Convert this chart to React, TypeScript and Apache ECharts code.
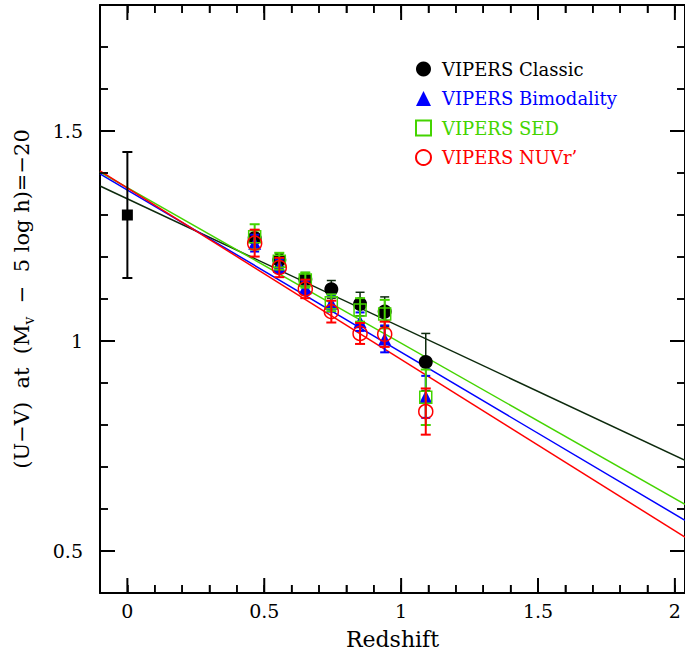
import React, { useEffect, useRef } from "react";
import * as echarts from "echarts";

// Redshift bins
const zBins = [0.465, 0.555, 0.65, 0.745, 0.85, 0.94, 1.09];
// VIPERS samples: colour and error
const classicVal = [1.245, 1.193, 1.147, 1.123, 1.088, 1.07, 0.95];
const classicErr = [0.02, 0.016, 0.016, 0.021, 0.028, 0.035, 0.068];
const bimodalityVal = [1.233, 1.178, 1.127, 1.09, 1.046, 1.005, 0.867];
const bimodalityErr = [0.02, 0.016, 0.016, 0.02, 0.022, 0.032, 0.05];
const sedVal = [1.248, 1.19, 1.145, 1.091, 1.074, 1.064, 0.866];
const sedErr = [0.03, 0.02, 0.018, 0.02, 0.028, 0.034, 0.066];
const nuvrVal = [1.233, 1.175, 1.124, 1.07, 1.018, 1.016, 0.832];
const nuvrErr = [0.032, 0.023, 0.022, 0.026, 0.025, 0.03, 0.055];
// local (z=0) point
const localZ = [0];
const localVal = [1.3];
const localErr = [0.15];
// fit lines: endpoints
const fitX = [-0.1, 2.037];
const fitClassic = [1.369, 0.716];
const fitSed = [1.402, 0.611];
const fitBimodality = [1.398, 0.573];
const fitNuvr = [1.405, 0.533];
// axes
const xTicks = [0, 0.5, 1, 1.5, 2];
const xMinorTicks = [0.1, 0.2, 0.3, 0.4, 0.6, 0.7, 0.8, 0.9, 1.1, 1.2, 1.3, 1.4, 1.6, 1.7, 1.8, 1.9];
const yTicks = [0.5, 1, 1.5];
const yMinorTicks = [0.6, 0.7, 0.8, 0.9, 1.1, 1.2, 1.3, 1.4, 1.6, 1.7];
const yRange = [0.4, 1.8];

const FONT = "DejaVu Serif";
const BLACK = "#000000";
const BLUE = "#0000ff";
const GREEN = "#44d400";
const RED = "#ff0000";
const DARK = "#0d2a0d";
const MAJOR_LEN = 15;
const MINOR_LEN = 8;

function errData(xs: number[], vs: number[], es: number[]) {
  return xs.map((x, i) => [x, vs[i], vs[i] - es[i], vs[i] + es[i]]);
}

function errSeries(name: string, xs: number[], vs: number[], es: number[], color: string, width: number, cap: number, z: number) {
  return {
    name,
    type: "custom",
    z,
    encode: { x: 0, y: 1 },
    data: errData(xs, vs, es),
    renderItem: (params: any, api: any) => {
      const x = api.value(0);
      const lo = api.coord([x, api.value(2)]);
      const hi = api.coord([x, api.value(3)]);
      return {
        type: "group",
        children: [
          { type: "line", shape: { x1: lo[0], y1: lo[1], x2: hi[0], y2: hi[1] }, style: { stroke: color, lineWidth: width } },
          { type: "line", shape: { x1: lo[0] - cap / 2, y1: lo[1], x2: lo[0] + cap / 2, y2: lo[1] }, style: { stroke: color, lineWidth: width } },
          { type: "line", shape: { x1: hi[0] - cap / 2, y1: hi[1], x2: hi[0] + cap / 2, y2: hi[1] }, style: { stroke: color, lineWidth: width } },
        ],
      };
    },
  };
}

function pts(xs: number[], vs: number[]) {
  return xs.map((x, i) => [x, vs[i]]);
}

function fitSeries(name: string, ys: number[], color: string) {
  return {
    name,
    type: "line",
    data: pts(fitX, ys),
    symbol: "none",
    lineStyle: { color, width: 1.5 },
    z: 1,
  };
}

export default function App() {
  const ref = useRef<HTMLDivElement>(null);
  useEffect(() => {
    document.body.style.margin = "0";
    if (!ref.current) return;
    const chart = echarts.init(ref.current, null, { renderer: "svg" });
    const xMin = fitX[0];
    const xMax = fitX[1];
    const yMin = yRange[0];
    const yMax = yRange[1];

    const axisX = (pos: string, labels: boolean) => ({
      type: "value",
      min: xMin,
      max: xMax,
      interval: 0.1,
      position: pos,
      axisLine: { show: true, onZero: false, lineStyle: { color: BLACK, width: 2 } },
      axisTick: { show: true, inside: true, length: MINOR_LEN, lineStyle: { color: BLACK, width: 1.5 } },
      axisLabel: labels
        ? { show: true, customValues: xTicks, color: BLACK, fontFamily: FONT, fontSize: 19, margin: 8 }
        : { show: false },
      splitLine: { show: false },
    });
    const axisY = (pos: string, labels: boolean) => ({
      type: "value",
      min: yMin,
      max: yMax,
      interval: 0.1,
      position: pos,
      axisLine: { show: true, onZero: false, lineStyle: { color: BLACK, width: 2 } },
      axisTick: { show: true, inside: true, length: MINOR_LEN, lineStyle: { color: BLACK, width: 1.5 } },
      axisLabel: labels
        ? { show: true, customValues: yTicks, color: BLACK, fontFamily: FONT, fontSize: 19, margin: 17 }
        : { show: false },
      splitLine: { show: false },
    });
    const xAxes: any[] = [axisX("bottom", true), axisX("top", false)];
    xAxes[0].name = "Redshift";
    xAxes[0].nameLocation = "middle";
    xAxes[0].nameGap = 35;
    xAxes[0].nameTextStyle = { color: BLACK, fontFamily: FONT, fontSize: 22 };
    const yAxes: any[] = [axisY("left", true), axisY("right", false)];
    yAxes[0].name = "{n|(U\u2212V)  at  (M}{s|v}{n|  \u2212  5 log h)=\u221220}";
    yAxes[0].nameLocation = "middle";
    yAxes[0].nameRotate = 90;
    yAxes[0].nameGap = 64;
    yAxes[0].nameTextStyle = {
      color: BLACK,
      fontFamily: FONT,
      fontSize: 21,
      rich: {
        n: { fontFamily: FONT, fontSize: 21, color: BLACK, lineHeight: 28 },
        s: { fontFamily: FONT, fontSize: 14, color: BLACK, lineHeight: 28, verticalAlign: "bottom", padding: [12, 0, 0, 0] },
      },
    };

    const option: any = {
      animation: false,
      grid: { left: 100, top: 5, right: -2, bottom: 66 },
      xAxis: xAxes,
      yAxis: yAxes,
      legend: {
        orient: "vertical",
        left: 410,
        top: 55,
        itemWidth: 15,
        itemHeight: 15,
        itemGap: 11.5,
        textStyle: { fontFamily: FONT, fontSize: 18, padding: [0, 0, 0, 6] },
        data: [
          { name: "VIPERS Classic", textStyle: { color: BLACK } },
          { name: "VIPERS Bimodality", textStyle: { color: BLUE } },
          { name: "VIPERS SED", textStyle: { color: GREEN } },
          { name: "VIPERS NUVr\u2019", textStyle: { color: RED } },
        ],
      },
      series: [
        fitSeries("fitClassic", fitClassic, DARK),
        fitSeries("fitSed", fitSed, GREEN),
        fitSeries("fitBimodality", fitBimodality, BLUE),
        fitSeries("fitNuvr", fitNuvr, RED),
        errSeries("localErr", localZ, localVal, localErr, BLACK, 2, 10, 2),
        {
          name: "local",
          type: "scatter",
          data: pts(localZ, localVal),
          symbol: "rect",
          symbolSize: 11,
          itemStyle: { color: BLACK, opacity: 1 },
          z: 3,
        },
        errSeries("classicErr", zBins, classicVal, classicErr, DARK, 1.5, 9, 2),
        {
          name: "VIPERS Classic",
          type: "scatter",
          data: pts(zBins, classicVal),
          symbol: "circle",
          symbolSize: 14,
          itemStyle: { color: BLACK, opacity: 1 },
          z: 3,
        },
        errSeries("bimodalityErr", zBins, bimodalityVal, bimodalityErr, BLUE, 2, 9, 4),
        {
          name: "VIPERS Bimodality",
          type: "scatter",
          data: pts(zBins, bimodalityVal),
          symbol: "triangle",
          symbolSize: 13,
          itemStyle: { color: BLUE, opacity: 1 },
          z: 5,
        },
        errSeries("sedErr", zBins, sedVal, sedErr, GREEN, 2, 10, 6),
        {
          name: "VIPERS SED",
          type: "scatter",
          data: pts(zBins, sedVal),
          symbol: "rect",
          symbolSize: 12,
          itemStyle: { color: "rgba(255,255,255,0)", borderColor: GREEN, borderWidth: 1.5, opacity: 1 },
          z: 7,
        },
        errSeries("nuvrErr", zBins, nuvrVal, nuvrErr, RED, 2, 10, 8),
        {
          name: "VIPERS NUVr\u2019",
          type: "scatter",
          data: pts(zBins, nuvrVal),
          symbol: "circle",
          symbolSize: 14,
          itemStyle: { color: "rgba(255,255,255,0)", borderColor: RED, borderWidth: 1.5, opacity: 1 },
          z: 9,
        },
      ],
    };
    chart.setOption(option);

    // Tick marks on all four sides, placed through the chart's own axis scales.
    const finder = { xAxisIndex: 0, yAxisIndex: 0 };
    const toPx = (x: number, y: number) => chart.convertToPixel(finder as any, [x, y]) as number[];
    const tickEls: any[] = [];
    const addX = (v: number, len: number, w: number) => {
      const b = toPx(v, yMin);
      const t = toPx(v, yMax);
      tickEls.push({ type: "line", z: 100, silent: true, shape: { x1: b[0], y1: b[1], x2: b[0], y2: b[1] - len }, style: { stroke: BLACK, lineWidth: w } });
      tickEls.push({ type: "line", z: 100, silent: true, shape: { x1: t[0], y1: t[1], x2: t[0], y2: t[1] + len }, style: { stroke: BLACK, lineWidth: w } });
    };
    const addY = (v: number, len: number, w: number) => {
      const l = toPx(xMin, v);
      const r = toPx(xMax, v);
      tickEls.push({ type: "line", z: 100, silent: true, shape: { x1: l[0], y1: l[1], x2: l[0] + len, y2: l[1] }, style: { stroke: BLACK, lineWidth: w } });
      tickEls.push({ type: "line", z: 100, silent: true, shape: { x1: r[0], y1: r[1], x2: r[0] - len, y2: r[1] }, style: { stroke: BLACK, lineWidth: w } });
    };
    xTicks.forEach((v) => addX(v, MAJOR_LEN, 2));
    xMinorTicks.forEach((v) => addX(v, MINOR_LEN, 1.5));
    yTicks.forEach((v) => addY(v, MAJOR_LEN, 2));
    yMinorTicks.forEach((v) => addY(v, MINOR_LEN, 1.5));
    chart.setOption({ graphic: { elements: tickEls } });

    return () => chart.dispose();
  }, []);
  return <div ref={ref} style={{ width: 685, height: 659 }} />;
}
